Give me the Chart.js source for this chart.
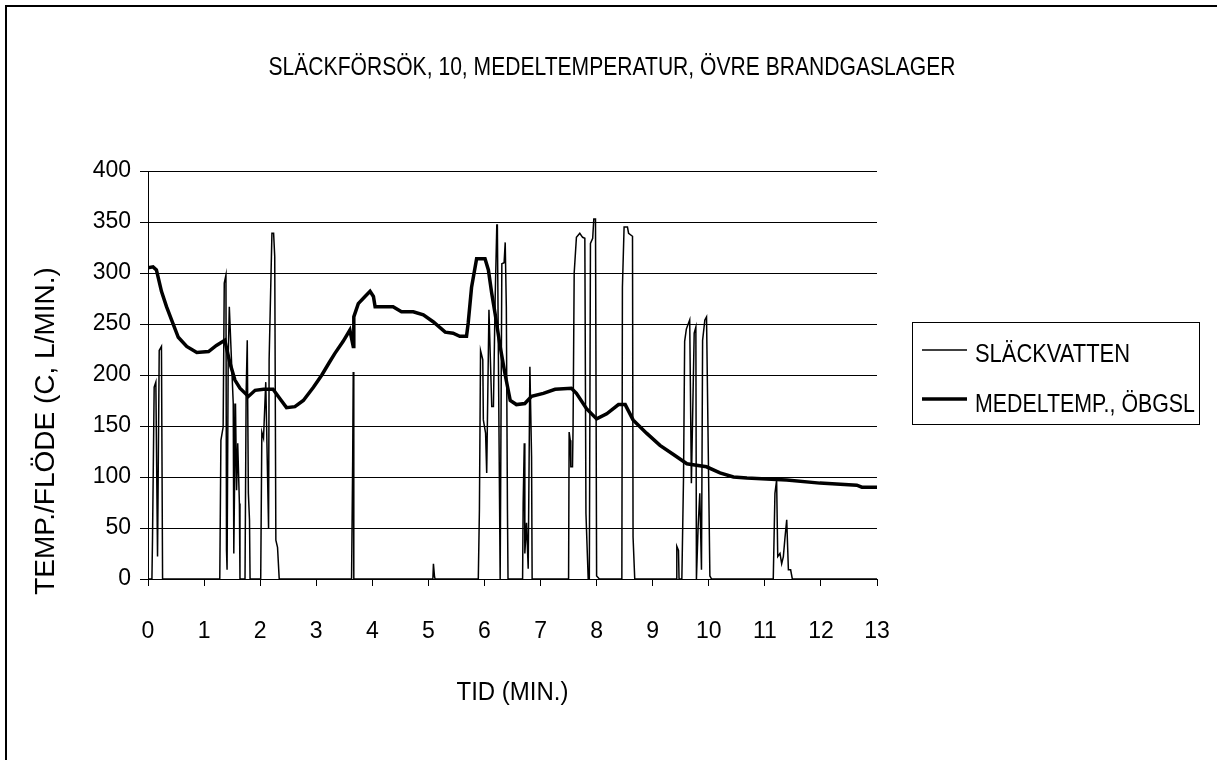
<!DOCTYPE html>
<html>
<head>
<meta charset="utf-8">
<script src="https://cdn.jsdelivr.net/npm/chart.js@4"></script>
<style>
body { margin: 0; background: #fff; }
canvas { display: block; }
</style>
</head>
<body>
<canvas id="slackChart" width="1217" height="760"></canvas>
<script>
// Texter
const titel = 'SLÄCKFÖRSÖK, 10, MEDELTEMPERATUR, ÖVRE BRANDGASLAGER';
const xTitel = 'TID (MIN.)';
const yTitel = 'TEMP./FLÖDE (C, L/MIN.)';
const serieNamn = ['SLÄCKVATTEN', 'MEDELTEMP., ÖBGSL'];

// Axlar
const xTicks = [0, 1, 2, 3, 4, 5, 6, 7, 8, 9, 10, 11, 12, 13];
const yTicks = [0, 50, 100, 150, 200, 250, 300, 350, 400];

// Släckvatten (l/min)
const slackTid = [0, 0.07, 0.08, 0.11, 0.14, 0.17, 0.20, 0.24, 0.26, 1.28, 1.30, 1.34, 1.36, 1.39, 1.40, 1.41, 1.43, 1.45,
    1.52, 1.53, 1.56, 1.58, 1.60, 1.63, 1.64, 1.73, 1.75, 1.77, 1.79, 1.81, 1.82, 2.01, 2.03, 2.06, 2.10, 2.15, 2.16, 2.21,
    2.24, 2.26, 2.28, 2.31, 2.34, 3.63, 3.65, 3.66, 3.67, 5.08, 5.09, 5.11, 5.12, 5.89, 5.91, 5.93, 5.97, 5.98, 6.02, 6.04,
    6.08, 6.13, 6.16, 6.19, 6.22, 6.23, 6.28, 6.31, 6.35, 6.37, 6.39, 6.41, 6.42, 6.68, 6.69, 6.71, 6.72, 6.75, 6.78, 6.81,
    6.84, 6.85, 7.50, 7.51, 7.53, 7.54, 7.57, 7.58, 7.60, 7.64, 7.70, 7.75, 7.79, 7.81, 7.85, 7.87, 7.89, 7.93, 7.95, 7.98,
    8.00, 8.05, 8.45, 8.46, 8.49, 8.55, 8.57, 8.64, 8.65, 8.68, 9.42, 9.43, 9.46, 9.47, 9.52, 9.55, 9.57, 9.60, 9.66, 9.69,
    9.74, 9.77, 9.78, 9.81, 9.84, 9.87, 9.89, 9.93, 9.96, 10.02, 10.05, 11.15, 11.18, 11.21, 11.23, 11.27, 11.30, 11.33,
    11.36, 11.39, 11.42, 11.46, 11.49, 13];
const slackFlode = [0, 0, 38, 188, 193, 22, 224, 228, 0, 0, 136, 149, 290, 298, 28, 9, 215, 267,
    172, 25, 172, 87, 133, 74, 0, 0, 182, 234, 84, 58, 0, 0, 144, 138, 193, 50, 215, 339,
    339, 316, 38, 31, 0, 0, 117, 203, 0, 0, 15, 2, 0, 0, 68, 224, 215, 156, 143, 104,
    264, 169, 169, 273, 347, 347, 0, 309, 310, 330, 267, 68, 0, 0, 74, 133, 25, 55, 10, 208,
    120, 0, 0, 144, 136, 110, 110, 149, 300, 335, 339, 335, 334, 64, 0, 0, 329, 334, 353, 353,
    3, 0, 0, 286, 345, 345, 339, 336, 41, 0, 0, 32, 28, 0, 0, 100, 233, 245, 254, 94,
    241, 247, 0, 51, 84, 9, 234, 254, 257, 3, 0, 0, 84, 97, 22, 25, 15, 22,
    41, 58, 9, 9, 0, 0];

// Medeltemperatur övre brandgaslager (C)
const tempTid = [0, 0.09, 0.15, 0.24, 0.33, 0.42, 0.54, 0.69, 0.87, 1.08, 1.22, 1.37, 1.46, 1.55, 1.64, 1.79, 1.91, 2.06,
    2.23, 2.35, 2.47, 2.62, 2.77, 2.95, 3.10, 3.23, 3.33, 3.48, 3.60, 3.66, 3.67, 3.75, 3.87, 3.96, 4.02, 4.05, 4.37, 4.52,
    4.73, 4.91, 5.09, 5.30, 5.44, 5.56, 5.68, 5.71, 5.77, 5.86, 6.01, 6.07, 6.13, 6.19, 6.28, 6.37, 6.46, 6.57, 6.72, 6.84,
    7.05, 7.26, 7.55, 7.64, 7.82, 8.00, 8.18, 8.39, 8.51, 8.65, 8.89, 9.13, 9.37, 9.61, 9.72, 9.96, 10.20, 10.44, 10.68,
    11.03, 11.39, 11.98, 12.64, 12.73, 13];
const tempVarde = [305, 306, 303, 282, 267, 254, 237, 228, 222, 223, 229, 234, 212, 195, 187, 179, 185, 186,
    186, 177, 168, 169, 175, 188, 200, 212, 221, 233, 244, 228, 257, 270, 277, 282, 277, 267, 267, 262,
    262, 259, 252, 242, 241, 238, 238, 251, 286, 314, 314, 303, 280, 260, 228, 200, 175, 171, 172, 179,
    182, 186, 187, 182, 167, 157, 162, 171, 171, 156, 143, 131, 122, 113, 112, 110, 104, 100, 99,
    98, 97, 94, 92, 90, 90];

const textFont = '26px "Liberation Sans", Arial, sans-serif';

// Ram, titlar och förklaring ritas för hand
const ramPlugin = {
    id: 'ram',
    beforeDraw(chart) {
        const ctx = chart.ctx;
        ctx.save();
        ctx.fillStyle = '#fff';
        ctx.fillRect(0, 0, chart.width, chart.height);
        ctx.fillStyle = '#000';
        ctx.fillRect(5, 5, chart.width, 2);
        ctx.fillRect(5, 5, 2, chart.height);
        ctx.restore();
    },
    afterDraw(chart) {
        const ctx = chart.ctx;
        const area = chart.chartArea;
        ctx.save();
        ctx.fillStyle = '#000';
        ctx.font = textFont;
        ctx.textBaseline = 'alphabetic';
        ctx.textAlign = 'center';
        ctx.fillText(titel, 612, 75, 687);
        ctx.fillText(xTitel, (area.left + area.right) / 2, 700, 112);

        ctx.save();
        ctx.font = '28px "Liberation Sans", Arial, sans-serif';
        ctx.translate(54, 431);
        ctx.rotate(-Math.PI / 2);
        ctx.fillText(yTitel, 0, 0, 338);
        ctx.restore();

        // förklaring
        ctx.strokeStyle = '#000';
        ctx.lineWidth = 1;
        ctx.strokeRect(912.5, 322.5, 287, 102);
        ctx.textAlign = 'left';
        ctx.fillText(serieNamn[0], 975, 362, 155);
        ctx.fillText(serieNamn[1], 975, 412, 220);
        ctx.beginPath();
        ctx.lineWidth = 1.5;
        ctx.moveTo(922, 350);
        ctx.lineTo(967, 350);
        ctx.stroke();
        ctx.beginPath();
        ctx.lineWidth = 3.5;
        ctx.moveTo(922, 399);
        ctx.lineTo(967, 399);
        ctx.stroke();
        ctx.restore();
    }
};

const slackChart = new Chart(document.getElementById('slackChart'), {
    type: 'line',
    data: {
        datasets: [{
            label: serieNamn[0],
            data: slackTid.map((t, i) => ({ x: t, y: slackFlode[i] })),
            borderColor: '#000',
            borderWidth: 1.5,
            pointRadius: 0,
            tension: 0
        }, {
            label: serieNamn[1],
            data: tempTid.map((t, i) => ({ x: t, y: tempVarde[i] })),
            borderColor: '#000',
            borderWidth: 3.5,
            pointRadius: 0,
            tension: 0
        }]
    },
    options: {
        responsive: false,
        animation: false,
        devicePixelRatio: 1,
        layout: { padding: { left: 0, top: 171, right: 340, bottom: 0 } },
        plugins: {
            legend: { display: false },
            tooltip: { enabled: false }
        },
        scales: {
            x: {
                type: 'linear',
                min: 0,
                max: 13,
                afterBuildTicks: s => { s.ticks = xTicks.map(v => ({ value: v })); },
                afterFit: s => { s.height = 181; },
                grid: { drawOnChartArea: false, color: '#000', tickLength: 7 },
                border: { color: '#000', width: 1 },
                ticks: { color: '#000', font: { family: '"Liberation Sans", Arial', size: 23 }, padding: 32, maxRotation: 0 }
            },
            y: {
                min: 0,
                max: 400,
                afterBuildTicks: s => { s.ticks = yTicks.map(v => ({ value: v })); },
                afterFit: s => { s.width = 148; },
                grid: { color: '#000', tickLength: 8 },
                border: { color: '#000', width: 1 },
                ticks: { color: '#000', font: { family: '"Liberation Sans", Arial', size: 23 }, padding: 9 }
            }
        }
    },
    plugins: [ramPlugin]
});
</script>
</body>
</html>
